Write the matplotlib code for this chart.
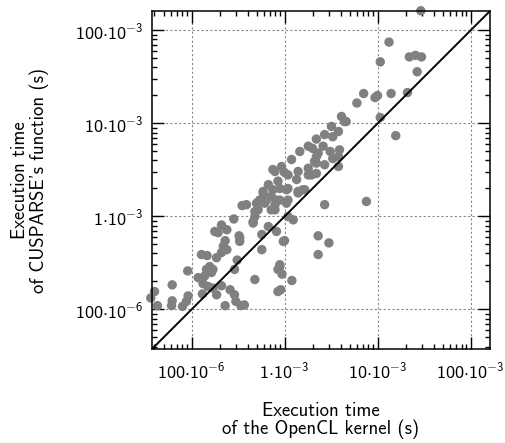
import numpy as np
import matplotlib
matplotlib.use("Agg")
import matplotlib.pyplot as plt
from matplotlib.ticker import FuncFormatter, LogLocator

plt.rcParams['mathtext.fontset'] = 'custom'
plt.rcParams['mathtext.rm'] = 'cmss10'
plt.rcParams['mathtext.it'] = 'cmss10'
plt.rcParams['mathtext.sf'] = 'cmss10'
plt.rcParams['font.family'] = ['cmss10', 'DejaVu Sans']
plt.rcParams['axes.unicode_minus'] = False

# execution time of the OpenCL kernel (s)
opencl_time = [
    2.92e-2, 1.33e-2, 1.07e-2, 2.2e-2, 2.56e-2, 2.97e-2, 2.67e-2, 7.1e-3, 6.0e-3, 9.4e-3,
    1.0e-2, 1.4e-2, 2.1e-2, 1.07e-2, 4.6e-3, 1.57e-2, 4.1e-3, 4.4e-3, 3.2e-3, 2.7e-3,
    3.8e-3, 3.3e-3, 2.2e-3, 2.0e-3, 2.6e-3, 3.1e-3, 3.9e-3, 2.2e-3, 2.2e-3, 3.8e-3,
    1.95e-3, 1.8e-3, 1.46e-3, 2.3e-3, 3.3e-3, 2.1e-3, 1.19e-3, 9.3e-4, 7.5e-4, 1.8e-3,
    2.7e-3, 3.8e-3, 7.9e-4, 1.0e-3, 1.09e-3, 1.4e-3, 1.8e-3, 2.2e-3, 1.35e-3, 6.7e-4,
    8.5e-4, 8.9e-4, 1.09e-3, 1.4e-3, 1.65e-3, 5.9e-4, 5.4e-4, 7.2e-4, 1.09e-3, 3.9e-4,
    5.0e-4, 6.1e-4, 7.9e-4, 8.9e-4, 5.2e-4, 7.2e-4, 1.09e-3, 1.24e-3, 2.7e-3, 4.8e-4,
    4.6e-4, 6.7e-4, 8.2e-4, 5.7e-4, 1.0e-3, 2.3e-3, 3.0e-3, 2.3e-3, 5.7e-4, 8.9e-4,
    8.5e-4, 9.4e-4, 4.8e-4, 1.2e-3, 8.5e-4, 9.1e-4, 3.7e-4, 7.6e-3, 3.5e-4, 2.85e-4,
    2.1e-4, 2.4e-4, 1.78e-4, 1.93e-4, 3.3e-4, 2.3e-4, 2.2e-4, 2.4e-4, 2.1e-4, 1.28e-4,
    1.47e-4, 1.86e-4, 3.1e-4, 1.57e-4, 1.45e-4, 1.7e-4, 2.9e-4, 9.1e-5, 1.18e-4, 1.39e-4,
    1.64e-4, 1.33e-4, 1.5e-4, 1.7e-4, 2.1e-4, 2.6e-4, 2.9e-4, 3.0e-4, 3.4e-4, 2.3e-4,
    4.0e-5, 3.65e-5, 4.3e-5, 6.2e-5, 6.2e-5, 6.1e-5, 8.0e-5, 8.8e-5, 9.2e-5, 1.31e-4,
    1.86e-4, 3.25e-4, 3.3e-4, 8.9e-4, 4.8e-4, 7.5e-4, 1.05e-3, 1.4e-3, 1.58e-3, 5.9e-4,
    6.4e-4, 8.2e-4, 1.05e-3, 7.9e-4, 4.6e-4, 9.7e-4,
]
# execution time of the CUSPARSE function (s)
cusparse_time = [
    1.63e-1, 7.5e-2, 4.6e-2, 5.2e-2, 5.4e-2, 5.2e-2, 3.6e-2, 2.1e-2, 1.66e-2, 1.9e-2,
    2.0e-2, 2.1e-2, 2.15e-2, 1.16e-2, 1.05e-2, 7.4e-3, 1.19e-2, 1.05e-2, 9.3e-3, 7.6e-3,
    8.2e-3, 7.2e-3, 6.8e-3, 5.4e-3, 5.7e-3, 5.0e-3, 5.2e-3, 4.4e-3, 3.75e-3, 4.4e-3,
    2.8e-3, 5.7e-3, 5.0e-3, 4.8e-3, 4.2e-3, 3.9e-3, 4.1e-3, 3.45e-3, 3.2e-3, 3.3e-3,
    3.6e-3, 3.45e-3, 3.05e-3, 2.97e-3, 2.8e-3, 3.05e-3, 2.8e-3, 2.9e-3, 2.5e-3, 2.2e-3,
    2.4e-3, 2.0e-3, 2.0e-3, 1.86e-3, 1.94e-3, 1.86e-3, 1.5e-3, 1.64e-3, 1.5e-3, 1.34e-3,
    1.39e-3, 1.39e-3, 1.34e-3, 1.5e-3, 1.18e-3, 1.18e-3, 1.0e-3, 9.2e-4, 1.34e-3, 1.0e-3,
    8.5e-4, 7.8e-4, 6.9e-4, 6.4e-4, 5.5e-4, 6.2e-4, 5.2e-4, 3.9e-4, 4.4e-4, 2.9e-4,
    2.7e-4, 2.4e-4, 2.1e-4, 2.05e-4, 1.56e-4, 1.63e-4, 1.12e-4, 1.45e-3, 1.31e-3, 9.4e-4,
    8.1e-4, 7.2e-4, 6.9e-4, 6.7e-4, 5.9e-4, 5.5e-4, 4.8e-4, 4.4e-4, 4.1e-4, 3.9e-4,
    3.8e-4, 3.6e-4, 3.4e-4, 2.9e-4, 2.7e-4, 2.7e-4, 2.7e-4, 2.6e-4, 2.2e-4, 2.3e-4,
    2.5e-4, 1.9e-4, 1.77e-4, 1.7e-4, 1.8e-4, 1.63e-4, 1.44e-4, 1.22e-4, 1.1e-4, 1.1e-4,
    1.56e-4, 1.33e-4, 1.1e-4, 1.84e-4, 1.24e-4, 1.1e-4, 1.08e-4, 1.22e-4, 1.4e-4, 1.47e-4,
    1.44e-4, 6.2e-4, 5.4e-4, 3.03e-4, 1.13e-3, 1.94e-3, 1.94e-3, 1.79e-3, 1.94e-3, 1.79e-3,
    1.5e-3, 1.5e-3, 1.39e-3, 1.18e-3, 8.8e-4, 5.4e-4,
]

lo, hi = 3.76e-5, 0.162


def eng_label(v, pos):
    e = int(round(np.log10(v)))
    e3 = 3 * int(np.floor(e / 3))
    m = 10 ** (e - e3)
    return r'$%d{\cdot}10^{%d}$' % (m, e3)


fig = plt.figure(figsize=(5.06, 4.43), dpi=100)
ax = fig.add_axes([152 / 506, 1 - 349 / 443, 338 / 506, 338 / 443])

ax.scatter(opencl_time, cusparse_time, s=46, color='#808080', edgecolors='none',
           zorder=2, clip_on=False)
ax.plot([lo, hi], [lo, hi], color='black', linewidth=1.4, zorder=3)

ax.set_xscale('log')
ax.set_yscale('log')
ax.set_xlim(lo, hi)
ax.set_ylim(lo, hi)

for a in (ax.xaxis, ax.yaxis):
    a.set_major_locator(LogLocator(base=10))
    a.set_minor_locator(LogLocator(base=10, subs=np.arange(2, 10)))
    a.set_major_formatter(FuncFormatter(eng_label))
    a.set_minor_formatter(FuncFormatter(lambda v, p: ''))

ax.tick_params(which='both', direction='in', top=True, right=True, width=1.0)
ax.tick_params(which='major', length=8.5, labelsize=13)
ax.tick_params(which='minor', length=3.8)
ax.tick_params(axis='x', which='major', pad=8)
ax.tick_params(axis='y', which='major', pad=6)

for sp in ax.spines.values():
    sp.set_linewidth(1.1)

ax.grid(True, which='major', color='#888888', linestyle=(0, (2, 2)), linewidth=0.8)
ax.set_axisbelow(True)

ax.set_xlabel("Execution time\nof the OpenCL kernel (s)", fontsize=13.5, labelpad=15,
              linespacing=0.98)
ax.set_ylabel("Execution time\nof CUSPARSE's function (s)", fontsize=13.5, labelpad=19,
              linespacing=1.05)

fig.savefig('out.png', dpi=100)
